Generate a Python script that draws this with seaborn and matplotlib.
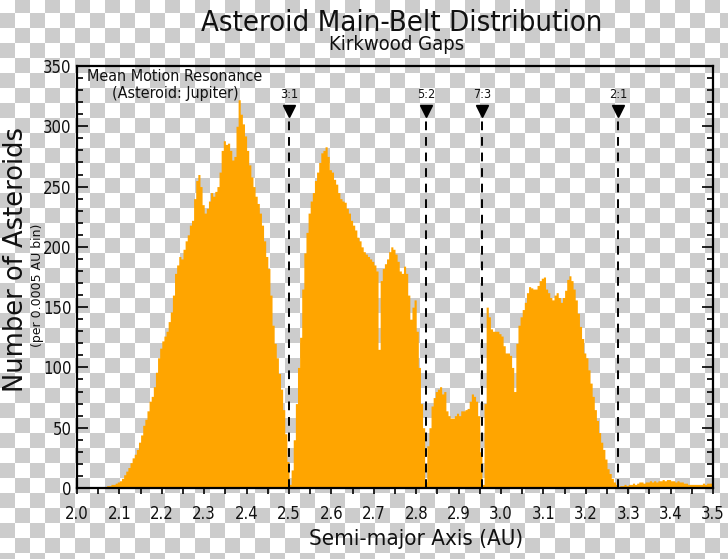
import numpy as np
import pandas as pd
import matplotlib
matplotlib.use("Agg")
import matplotlib.pyplot as plt
import seaborn as sns
from matplotlib.ticker import MultipleLocator, FormatStrFormatter

sns.set_theme(style="white")
plt.rcParams['font.family'] = ['DejaVu Sans']
plt.rcParams['font.stretch'] = 'condensed'

# ---------------- data (asteroids per bin, bins of 0.005 AU) -------------
BIN_START = 2.0
BIN_WIDTH = 0.005

# 2.000 - 2.495 AU
inner_belt_counts = [
    1, 1, 1, 1, 1, 1, 1, 1, 1, 1, 1, 1, 1, 1,
    2, 2, 3, 3, 4, 5,
    6, 8, 11, 14, 17, 21, 25, 28, 32, 38, 44, 52, 57, 64, 72, 76, 84, 96, 108, 116,
    122, 126, 130, 138, 146, 160, 178, 185, 192, 190, 198, 205, 210, 218, 222, 240, 255, 260, 250, 235,
    228, 232, 238, 245, 242, 246, 250, 262, 280, 288, 285, 286, 280, 272, 275, 300, 322, 310, 302, 292,
    280, 268, 258, 250, 242, 236, 228, 218, 205, 192, 182, 160, 135, 120, 108, 95, 82, 65, 45, 22,
]
# 2.500 - 2.995 AU
middle_belt_counts = [
    3, 15, 40, 70, 100, 125, 165, 195, 212, 228, 238, 245, 255, 262, 270, 278, 280, 283, 275, 264,
    262, 256, 252, 245, 240, 238, 237, 232, 228, 222, 218, 214, 208, 205, 200, 196, 194, 192, 190, 188,
    185, 180, 115, 172, 182, 186, 190, 196, 200, 198, 194, 188, 180, 178, 184, 178, 160, 140, 150, 156,
    130, 100, 70, 50, 5, 35, 50, 68, 75, 80, 82, 84, 78, 80, 64, 60, 58, 58, 60, 62,
    60, 64, 64, 65, 66, 72, 78, 76, 72, 60, 30, 3, 70, 150, 142, 132, 130, 130, 130, 128,
]
# 3.000 - 3.495 AU
outer_belt_counts = [
    126, 118, 112, 112, 110, 100, 80, 120, 135, 142, 148, 154, 162, 167, 166, 165, 165, 168, 172, 174,
    175, 165, 162, 158, 156, 160, 162, 158, 154, 158, 164, 173, 176, 172, 165, 156, 145, 134, 124, 112,
    108, 98, 87, 76, 65, 56, 46, 38, 32, 24, 16, 12, 8, 5, 3, 1, 2, 2, 3, 2,
    3, 3, 4, 3, 4, 5, 5, 4, 5, 5, 6, 5, 6, 5, 6, 6, 7, 6, 7, 7,
    6, 6, 5, 6, 5, 5, 4, 4, 3, 3, 3, 3, 3, 3, 3, 4, 3, 4, 4, 4,
]

resonance_labels = ["3:1", "5:2", "7:3", "2:1"]
resonance_axis = [2.501, 2.824, 2.956, 3.277]
RES_MARK_Y = 313
RES_TEXT_Y = 321

x_ticks = [2.0, 2.1, 2.2, 2.3, 2.4, 2.5, 2.6, 2.7, 2.8, 2.9, 3.0, 3.1, 3.2, 3.3, 3.4, 3.5]

counts = inner_belt_counts + middle_belt_counts + outer_belt_counts
centers = BIN_START + BIN_WIDTH * (np.arange(len(counts)) + 0.5)
df = pd.DataFrame({"a": centers, "n": counts})

# ---------------- figure ----------------
W, H = 728, 559
fig = plt.figure(figsize=(W / 100, H / 100), dpi=100)
fig.patch.set_facecolor("white")

# transparency checkerboard backdrop as seen in the reference
yy, xx = np.mgrid[0:H, 0:W]
checker = ((xx // 15 + (yy + 2) // 15) % 2 == 1)
bg = np.where(checker[..., None], 0.80, 1.0) * np.ones((1, 1, 3))
fig.figimage(bg, 0, 0, origin="upper", zorder=-10)

ax = fig.add_axes([77 / W, 1 - 488 / H, (713 - 77) / W, (488 - 66) / H])
ax.set_facecolor("none")

sns.histplot(data=df, x="a", weights="n", binwidth=BIN_WIDTH,
             binrange=(BIN_START, BIN_START + BIN_WIDTH * len(counts)),
             element="step", fill=True, color="#FFA500", alpha=1.0, linewidth=0, ax=ax)

for lab, a in zip(resonance_labels, resonance_axis):
    ax.plot([a, a], [0, RES_MARK_Y], color="black", lw=1.4, ls=(0, (4.5, 3.5)), zorder=3)
    ax.plot([a], [RES_MARK_Y], marker="v", ms=8, color="black", zorder=4)
    ax.text(a, RES_TEXT_Y, lab, ha="center", va="bottom", fontsize=9, color="#111111")

ax.text((175 - 77) / 636, 0.992, "Mean Motion Resonance\n(Asteroid: Jupiter)",
        transform=ax.transAxes, ha="center", va="top", fontsize=11.5, linespacing=1.1,
        color="#111111")

ax.set_xlim(2.0, 3.5)
ax.set_ylim(0, 350)
ax.set_xlabel("")
ax.set_ylabel("")
ax.set_xticks(x_ticks)
ax.xaxis.set_major_formatter(FormatStrFormatter("%.1f"))
ax.xaxis.set_minor_locator(MultipleLocator(0.05))
ax.yaxis.set_major_locator(MultipleLocator(50))
ax.yaxis.set_minor_locator(MultipleLocator(10))

ax.tick_params(axis="x", which="both", direction="out", bottom=True, top=False,
               length=4, width=1.2, color="black")
ax.tick_params(axis="x", which="major", labelsize=12, pad=8, labelcolor="#111111")
ax.tick_params(axis="y", which="both", direction="in", left=True, right=True, width=1.2,
               color="black")
ax.tick_params(axis="y", which="major", length=8, labelsize=12, pad=4, labelcolor="#111111")
ax.tick_params(axis="y", which="minor", length=4.5)

for s in ax.spines.values():
    s.set_visible(True)
    s.set_color("black")
    s.set_linewidth(1.6)

fig.text(402 / W, 1 - 31 / H, "Asteroid Main-Belt Distribution", ha="center",
         va="baseline", fontsize=21, color="#111111")
fig.text(397 / W, 1 - 50 / H, "Kirkwood Gaps", ha="center", va="baseline",
         fontsize=14.5, color="#111111")
fig.text(16 / W, 1 - 260 / H, "Number of Asteroids", rotation=90, ha="center",
         va="center", fontsize=18.5, fontstretch="normal", color="#111111")
fig.text(37 / W, 1 - 285 / H, "(per 0.0005 AU bin)", rotation=90, ha="center",
         va="center", fontsize=9, fontstretch="normal", color="#111111")
fig.text(416 / W, 1 - 545 / H, "Semi-major Axis (AU)", ha="center", va="baseline",
         fontsize=16, color="#111111")

fig.savefig("out.png", dpi=100)
